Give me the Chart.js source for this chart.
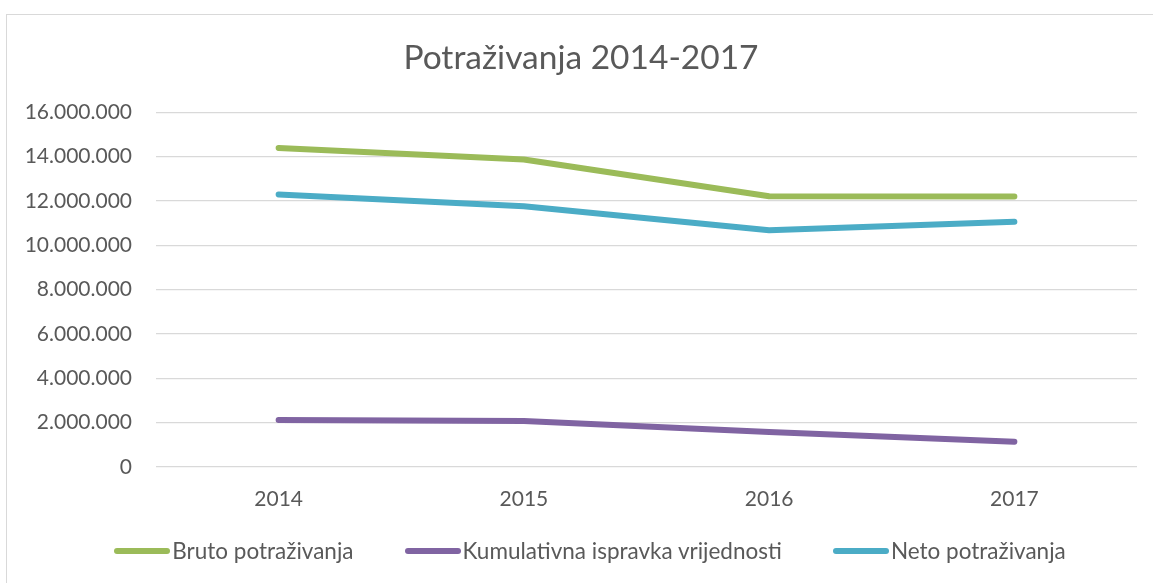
<!DOCTYPE html>
<html>
<head>
<meta charset="utf-8">
<script src="https://cdn.jsdelivr.net/npm/chart.js@4"></script>
<style>
  html, body { margin: 0; padding: 0; background: #fff; }
  #wrap { position: relative; width: 1153px; height: 583px; overflow: hidden; }
  #frame { position: absolute; left: 6px; top: 14px; width: 1170px; height: 620px; border: 1px solid #d9d9d9; box-sizing: border-box; pointer-events: none; }
  canvas { position: absolute; left: 0; top: 0; }
  #legend { position: absolute; left: 0; top: 539px; width: 1180px; display: flex; justify-content: center; font-family: Lato, sans-serif; font-size: 22.5px; color: #595959; line-height: 24px; }
  .item { display: flex; align-items: center; margin: 0 25.5px; white-space: nowrap; }
  .sw { width: 56px; height: 6px; border-radius: 3px; margin-right: 2px; }
</style>
</head>
<body>
<div id="wrap">
  <canvas id="c" width="1153" height="583"></canvas>
  <div id="frame"></div>
  <div id="legend"></div>
</div>
<script>
const titleText = "Potraživanja 2014-2017";
const categories = ["2014", "2015", "2016", "2017"];
const seriesNames = ["Bruto potraživanja", "Kumulativna ispravka vrijednosti", "Neto potraživanja"];
const bruto = [14390000, 13870000, 12210000, 12200000];
const ispravka = [2120000, 2070000, 1580000, 1140000];
const neto = [12290000, 11760000, 10680000, 11060000];
const colors = ["#9BBB59", "#8064A2", "#4BACC6"];
const yMin = 0, yMax = 16000000, yStep = 2000000;

function fmt(v) {
  return String(Math.round(v)).replace(/\B(?=(\d{3})+(?!\d))/g, ".");
}

const values = [bruto, ispravka, neto];
const datasets = seriesNames.map((n, i) => ({
  label: n,
  data: values[i],
  borderColor: colors[i],
  backgroundColor: colors[i],
  borderWidth: 6,
  pointRadius: 0,
  pointHoverRadius: 0,
  tension: 0,
  borderCapStyle: 'round',
  borderJoinStyle: 'round',
  fill: false
}));

const FONT = "Lato, sans-serif";
new Chart(document.getElementById('c'), {
  type: 'line',
  data: { labels: categories, datasets },
  options: {
    responsive: false,
    animation: false,
    devicePixelRatio: 1,
    layout: { padding: { left: 25, right: 16, top: 0, bottom: 66 } },
    plugins: {
      legend: { display: false },
      tooltip: { enabled: false },
      title: {
        display: true,
        text: titleText,
        color: '#595959',
        font: { family: FONT, size: 33.5, weight: 'normal' },
        padding: { top: 38, bottom: 34 }
      }
    },
    scales: {
      x: {
        offset: true,
        grid: { display: false, drawTicks: false },
        border: { display: false },
        ticks: { color: '#595959', font: { family: FONT, size: 21 }, padding: 20, maxRotation: 0 },
        afterFit(s) { s.height = 50; }
      },
      y: {
        min: yMin, max: yMax,
        grid: { color: '#d9d9d9', lineWidth: 1.3, drawTicks: false },
        border: { display: false },
        ticks: { stepSize: yStep, color: '#595959', font: { family: FONT, size: 21 }, padding: 24, callback: (v) => fmt(v) },
        afterFit(s) { s.width = 131; }
      }
    }
  }
});

const lg = document.getElementById('legend');
seriesNames.forEach((n, i) => {
  const it = document.createElement('div');
  it.className = 'item';
  const sw = document.createElement('span');
  sw.className = 'sw';
  sw.style.background = colors[i];
  const tx = document.createElement('span');
  tx.textContent = n;
  it.appendChild(sw); it.appendChild(tx);
  lg.appendChild(it);
});
</script>
</body>
</html>
